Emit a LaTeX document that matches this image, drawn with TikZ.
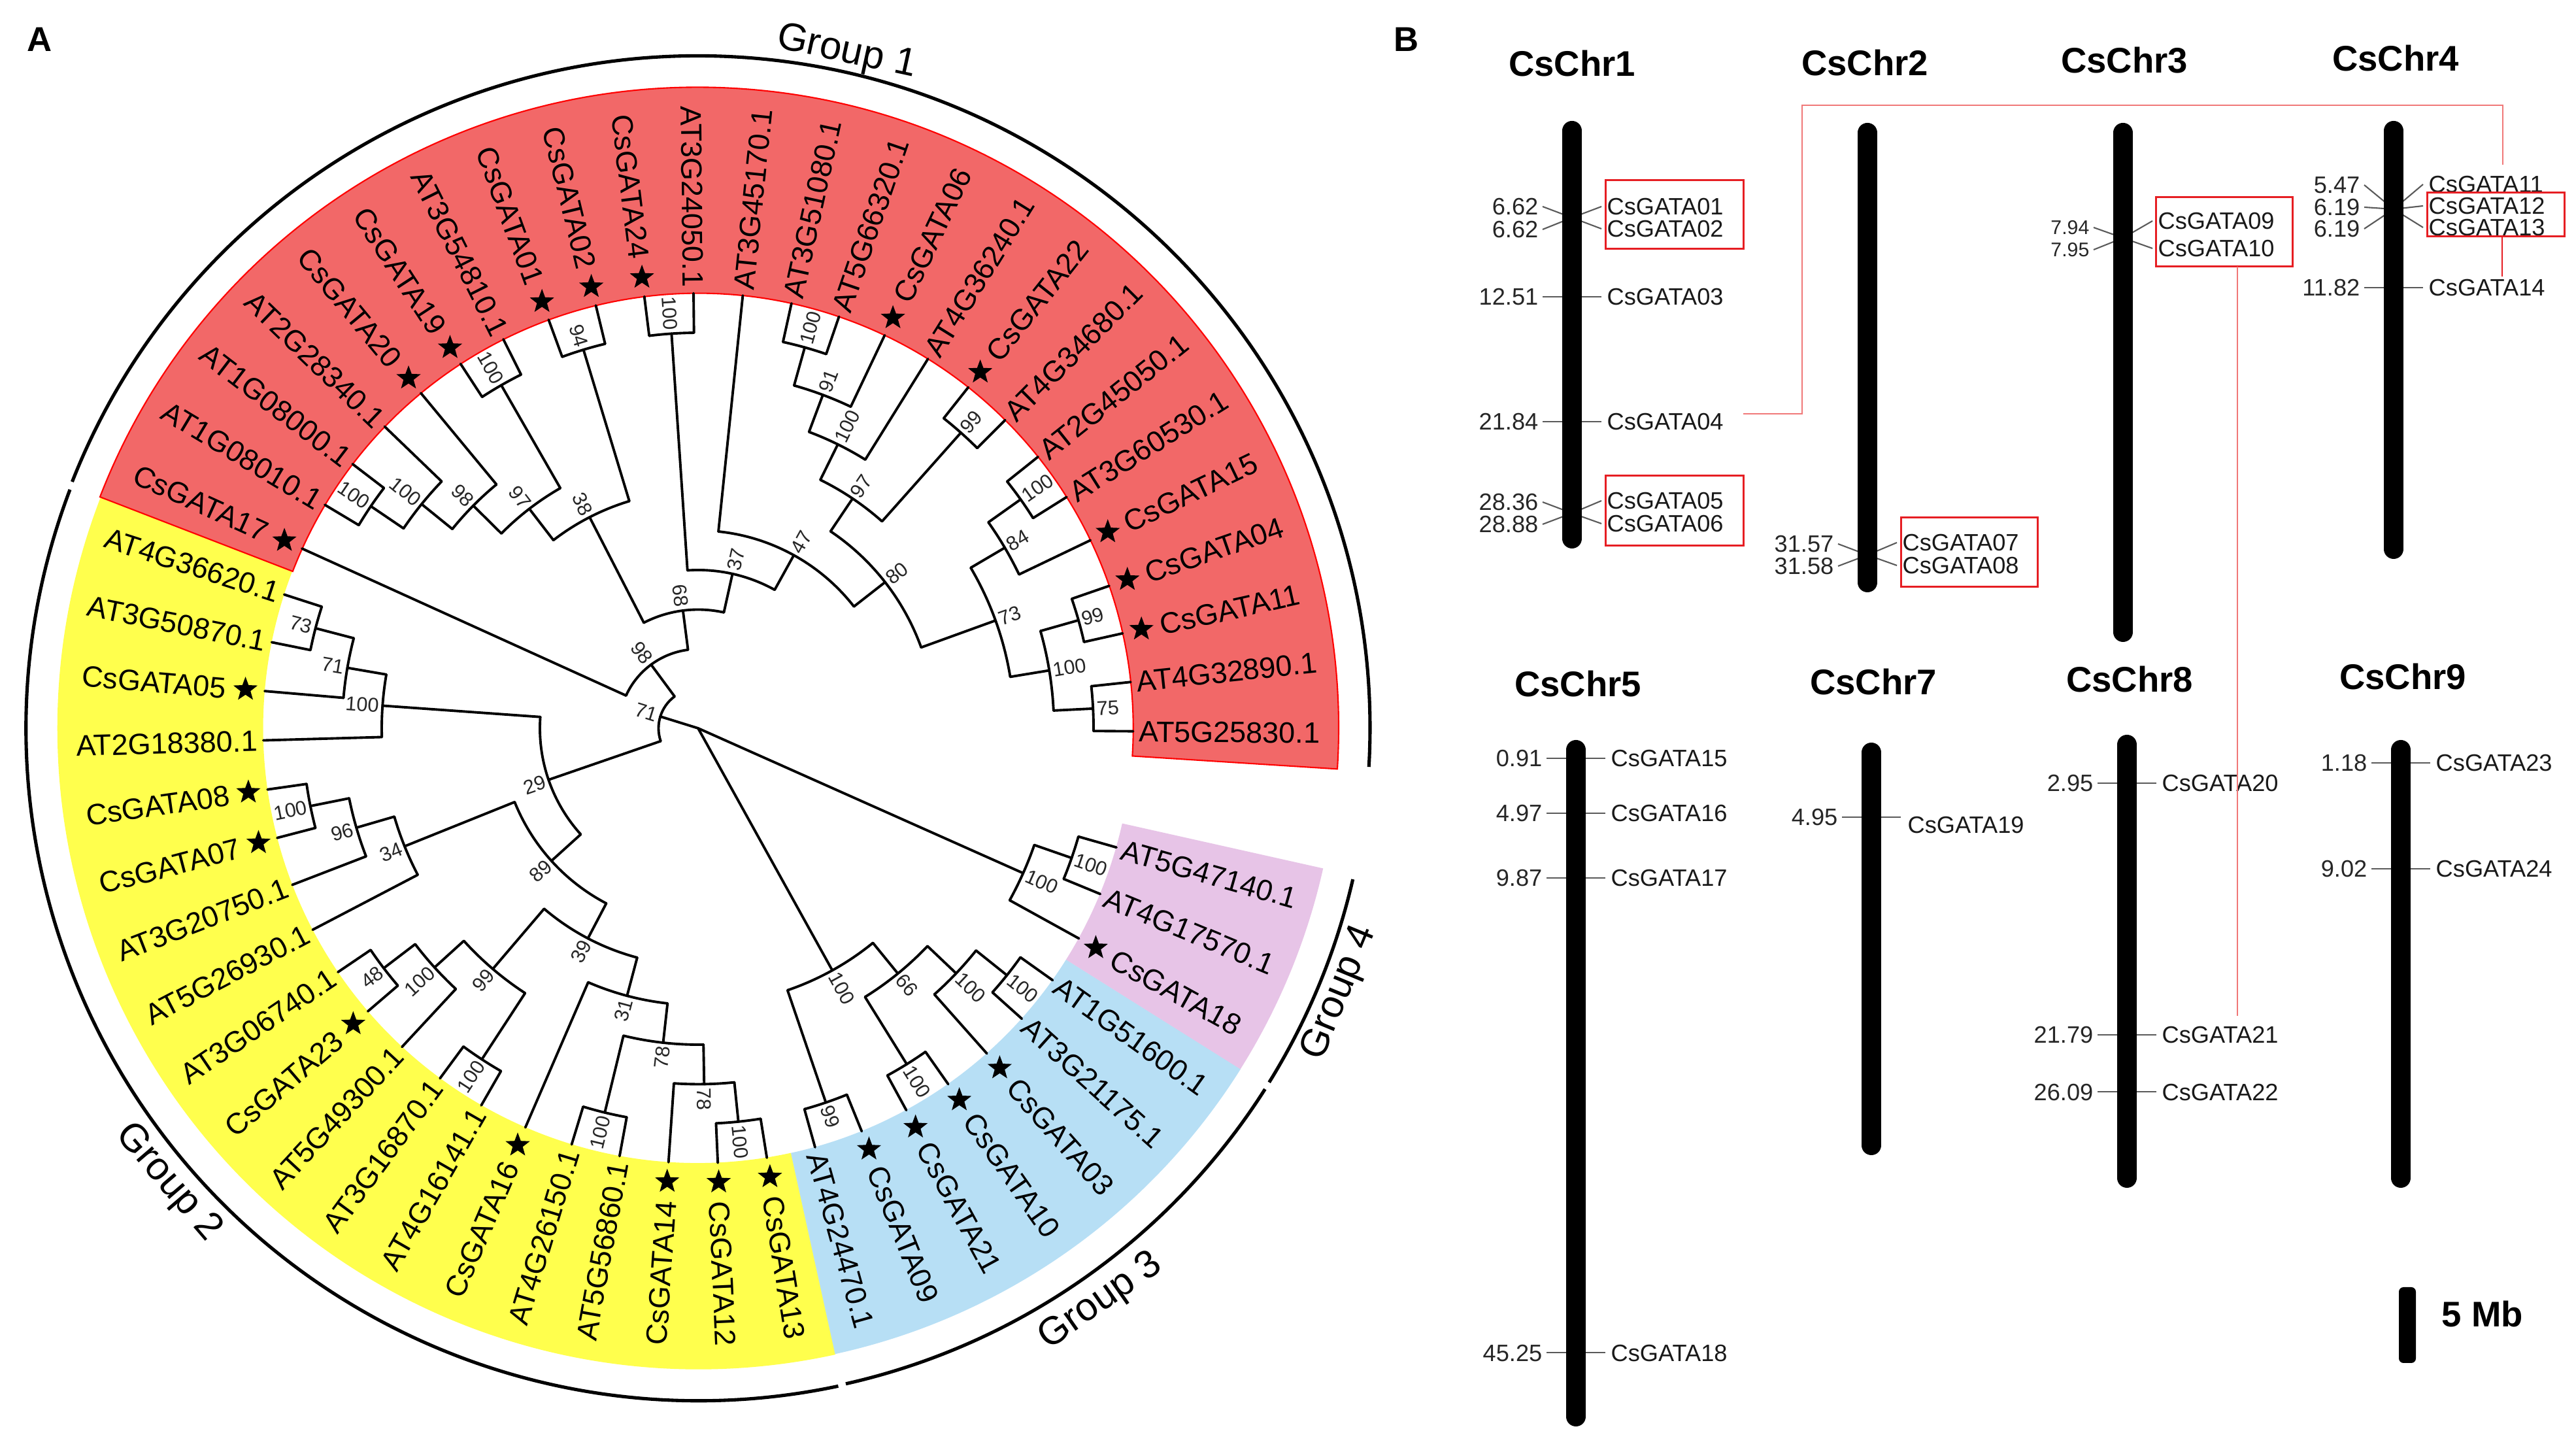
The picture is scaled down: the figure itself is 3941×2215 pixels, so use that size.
\documentclass[tikz,border=0pt]{standalone}
\usepackage{fontspec}
\setmainfont{Liberation Sans}
\usetikzlibrary{shapes.geometric}
\definecolor{bandred}{RGB}{242,104,104}
\definecolor{bandyellow}{RGB}{255,255,77}
\definecolor{bandblue}{RGB}{183,223,245}
\definecolor{bandpurple}{RGB}{231,196,231}
\definecolor{linkred}{RGB}{240,120,120}
\definecolor{boxred}{RGB}{230,30,35}
\definecolor{tickgray}{RGB}{90,90,90}
\tikzset{
 br/.style={line width=1.1pt, line cap=round, line join=round},
 bs/.style={font=\fontsize{8.7}{10}\selectfont, inner sep=0pt, text height=6.3pt, text depth=0pt, text=black!85},
 leaf/.style={font=\fontsize{12.8}{15}\selectfont, inner sep=0pt, text height=9.2pt, text depth=0pt},
 starnode/.style={star, star points=5, star point ratio=2.4, fill=black, inner sep=0pt, minimum size=0.39cm},
 grparc/.style={line width=1.45pt},
 grplabel/.style={font=\fontsize{17}{20}\selectfont, inner sep=0pt},
 panel/.style={font=\bfseries\fontsize{15}{18}\selectfont, inner sep=0pt},
 chrbar/.style={line width=0.3cm, line cap=round},
 chrtitle/.style={font=\bfseries\fontsize{15.5}{18}\selectfont, inner sep=0pt},
 tickln/.style={draw=tickgray, line width=0.6pt},
 posl/.style={font=\fontsize{10.3}{12}\selectfont, inner sep=0pt, text height=7.4pt, text depth=0pt, anchor=east, text=black!85},
 posls/.style={font=\fontsize{8.6}{10}\selectfont, inner sep=0pt, text height=6.2pt, text depth=0pt, anchor=east, text=black!85},
 genel/.style={font=\fontsize{10.3}{12}\selectfont, inner sep=0pt, text height=7.4pt, text depth=0pt, anchor=west, text=black!90},
 redbox/.style={draw=boxred, line width=0.85pt},
 redlink/.style={draw=linkred, line width=0.6pt},
}
% tree internal node: id, angle, level, parent level, first child angle, last child angle, bootstrap
\newcommand\TN[7]{%
  \draw[br] (#2:{#4*60.5}) -- (#2:{#3*60.5});
  \draw[br] (#5:{#3*60.5}) arc[start angle=#5, end angle=#6, radius={#3*0.605cm}];
  \pgfmathtruncatemacro\lfside{((#2>90) && (#2<270)) ? 1 : 0}%
  \ifnum\lfside=1
    \node[bs, anchor=east, rotate={#2-180}] (#1) at (#2:{#3*60.5+5}) {#7};
  \else
    \node[bs, anchor=west, rotate={#2}] (#1) at (#2:{#3*60.5+5}) {#7};
  \fi
}
% leaf: id, angle, parent level, text, star
\newcommand\LF[5]{%
  \draw[br] (#2:{#3*60.5}) -- (#2:665.5);
  \pgfmathtruncatemacro\lfside{((#2>90) && (#2<270)) ? 1 : 0}%
  \ifnum#5=1 \node[starnode] (s#1) at (#2:695) {};\def\lfrad{724}\else\def\lfrad{674}\fi
  \ifnum\lfside=1
    \node[leaf, anchor=east, rotate={#2-180}] (#1) at (#2:\lfrad) {#4};
  \else
    \node[leaf, anchor=west, rotate={#2}] (#1) at (#2:\lfrad) {#4};
  \fi
}
% gene marker: id, bar x, y at bar, y of left label, y of right label, position, gene, position style
\newcommand\gleg[8]{%
  \draw[tickln] (#2-45,#4) -- (#2,#3) -- (#2+45,#5);
  \node[#8] (p#1) at (#2-51,#4) {#6};
  \node[genel] (g#1) at (#2+53,#5) {#7};
}
\begin{document}
\begin{tikzpicture}[x=0.01cm,y=0.01cm]
\useasboundingbox (0,0) rectangle (3941,2215);
\fill[white] (0,0) rectangle (3941,2215);

% ================= Panel A : circular tree =================
\begin{scope}[shift={(1068,1101)}]
 \fill[bandyellow] (158.85:980) arc[start angle=158.85,end angle=282.35,radius=9.8cm] -- (282.35:665) arc[start angle=282.35,end angle=158.85,radius=6.65cm] -- cycle;
 \fill[bandblue] (282.35:980) arc[start angle=282.35,end angle=327.85,radius=9.8cm] -- (327.85:665) arc[start angle=327.85,end angle=282.35,radius=6.65cm] -- cycle;
 \fill[bandpurple] (327.85:980) arc[start angle=327.85,end angle=347.35,radius=9.8cm] -- (347.35:665) arc[start angle=347.35,end angle=327.85,radius=6.65cm] -- cycle;
 \path[fill=bandred, draw=red, line width=0.6pt] (-3.65:980) arc[start angle=-3.65,end angle=158.85,radius=9.8cm] -- (158.85:665) arc[start angle=158.85,end angle=-3.65,radius=6.65cm] -- cycle;

 \draw[grparc] (-3.3:1028) arc[start angle=-3.3,end angle=158.5,radius=10.28cm];
 \draw[grparc] (159.2:1028) arc[start angle=159.2,end angle=282.0,radius=10.28cm];
 \draw[grparc] (282.7:1028) arc[start angle=282.7,end angle=327.5,radius=10.28cm];
 \draw[grparc] (328.2:1028) arc[start angle=328.2,end angle=347.0,radius=10.28cm];
 \node[grplabel, rotate=-12.3] (grp1) at (77.6:1058) {Group 1};
 \node[grplabel, rotate=-49.4] (grp2) at (220.6:1068) {Group 2};
 \node[grplabel, rotate=35.1] (grp3) at (305.1:1072) {Group 3};
 \node[grplabel, rotate=67.6] (grp4) at (337.6:1062) {Group 4};

 % internal nodes
 \TN{r71}{162.74}{1}{0}{126.465}{199.02}{71}
 \TN{n98a}{126.465}{2}{1}{97.33}{155.6}{98}
 \TN{n68}{97.33}{3}{2}{77.45}{117.21}{68}
 \TN{n38}{117.21}{6}{3}{106.85}{127.569}{38}
 \TN{n97L}{127.569}{7}{6}{119.85}{135.2875}{97}
 \TN{n98L}{135.2875}{8}{7}{129.6}{140.975}{98}
 \TN{n100a}{140.975}{9}{8}{136.1}{145.85}{100}
 \TN{n100b}{145.85}{10}{9}{142.6}{149.1}{100}
 \TN{n100c}{119.85}{10}{7}{116.6}{123.1}{100}
 \TN{n94}{106.85}{10}{6}{103.6}{110.1}{94}
 \TN{n37}{77.45}{4}{3}{61.045}{93.85}{37}
 \TN{n100d}{93.85}{10}{4}{90.6}{97.1}{100}
 \TN{n47}{61.045}{5}{4}{37.99}{84.1}{47}
 \TN{n80}{37.99}{6}{5}{19.91}{56.07}{80}
 \TN{n97R}{56.07}{7}{6}{48.35}{63.79}{97}
 \TN{n100i}{63.79}{8}{7}{58.1}{69.475}{100}
 \TN{n91}{69.475}{9}{8}{64.6}{74.35}{91}
 \TN{n100e}{74.35}{10}{9}{71.1}{77.6}{100}
 \TN{n99a}{48.35}{10}{7}{45.1}{51.6}{99}
 \TN{n73}{19.91}{8}{6}{9.35}{30.475}{73}
 \TN{n84}{30.475}{9}{8}{25.6}{35.35}{84}
 \TN{n100f}{35.35}{10}{9}{32.1}{38.6}{100}
 \TN{n100g}{9.35}{9}{8}{2.85}{15.85}{100}
 \TN{n99b}{15.85}{10}{9}{12.6}{19.1}{99}
 \TN{n75}{2.85}{10}{9}{-0.4}{6.1}{75}
 \TN{n29}{199.02}{4}{1}{175.91}{222.12}{29}
 \TN{n100h}{175.91}{8}{4}{170.225}{181.6}{100}
 \TN{n71b}{170.225}{9}{8}{165.35}{175.1}{71}
 \TN{n73b}{165.35}{10}{9}{162.1}{168.6}{73}
 \TN{n89}{222.12}{5}{4}{201.91}{242.33}{89}
 \TN{n34}{201.91}{8}{5}{196.225}{207.6}{34}
 \TN{n96}{196.225}{9}{8}{191.35}{201.1}{96}
 \TN{n100j}{191.35}{10}{9}{188.1}{194.6}{100}
 \TN{n39}{242.33}{6}{5}{229.54}{255.13}{39}
 \TN{n99c}{229.54}{8}{6}{222.225}{236.85}{99}
 \TN{n100k}{222.225}{9}{8}{217.35}{227.1}{100}
 \TN{n48}{217.35}{10}{9}{214.1}{220.6}{48}
 \TN{n100l}{236.85}{10}{8}{233.6}{240.1}{100}
 \TN{n31}{255.13}{7}{6}{246.6}{263.66}{31}
 \TN{n78a}{263.66}{8}{7}{256.35}{270.975}{78}
 \TN{n100m}{256.35}{10}{8}{253.1}{259.6}{100}
 \TN{n78b}{270.975}{9}{8}{266.1}{275.85}{78}
 \TN{n100n}{275.85}{10}{9}{272.6}{279.1}{100}
 \TN{g3}{299.006}{7}{0}{288.85}{309.1625}{100}
 \TN{n99d}{288.85}{10}{7}{285.6}{292.1}{99}
 \TN{n66}{309.1625}{8}{7}{301.85}{316.475}{66}
 \TN{n100z}{301.85}{10}{8}{298.6}{305.1}{100}
 \TN{n100y}{316.475}{9}{8}{311.6}{321.35}{100}
 \TN{n100x}{321.35}{10}{9}{318.1}{324.6}{100}
 \TN{g4}{335.975}{9}{0}{331.1}{340.85}{100}
 \TN{n100w}{340.85}{10}{9}{337.6}{344.1}{100}

 % leaves
 \LF{L0}{-0.4}{10}{AT5G25830.1}{0}
 \LF{L1}{6.1}{10}{AT4G32890.1}{0}
 \LF{L2}{12.6}{10}{CsGATA11}{1}
 \LF{L3}{19.1}{10}{CsGATA04}{1}
 \LF{L4}{25.6}{9}{CsGATA15}{1}
 \LF{L5}{32.1}{10}{AT3G60530.1}{0}
 \LF{L6}{38.6}{10}{AT2G45050.1}{0}
 \LF{L7}{45.1}{10}{AT4G34680.1}{0}
 \LF{L8}{51.6}{10}{CsGATA22}{1}
 \LF{L9}{58.1}{8}{AT4G36240.1}{0}
 \LF{L10}{64.6}{9}{CsGATA06}{1}
 \LF{L11}{71.1}{10}{AT5G66320.1}{0}
 \LF{L12}{77.6}{10}{AT3G51080.1}{0}
 \LF{L13}{84.1}{5}{AT3G45170.1}{0}
 \LF{L14}{90.6}{10}{AT3G24050.1}{0}
 \LF{L15}{97.1}{10}{CsGATA24}{1}
 \LF{L16}{103.6}{10}{CsGATA02}{1}
 \LF{L17}{110.1}{10}{CsGATA01}{1}
 \LF{L18}{116.6}{10}{AT3G54810.1}{0}
 \LF{L19}{123.1}{10}{CsGATA19}{1}
 \LF{L20}{129.6}{8}{CsGATA20}{1}
 \LF{L21}{136.1}{9}{AT2G28340.1}{0}
 \LF{L22}{142.6}{10}{AT1G08000.1}{0}
 \LF{L23}{149.1}{10}{AT1G08010.1}{0}
 \LF{L24}{155.6}{2}{CsGATA17}{1}
 \LF{L25}{162.1}{10}{AT4G36620.1}{0}
 \LF{L26}{168.6}{10}{AT3G50870.1}{0}
 \LF{L27}{175.1}{9}{CsGATA05}{1}
 \LF{L28}{181.6}{8}{AT2G18380.1}{0}
 \LF{L29}{188.1}{10}{CsGATA08}{1}
 \LF{L30}{194.6}{10}{CsGATA07}{1}
 \LF{L31}{201.1}{9}{AT3G20750.1}{0}
 \LF{L32}{207.6}{8}{AT5G26930.1}{0}
 \LF{L33}{214.1}{10}{AT3G06740.1}{0}
 \LF{L34}{220.6}{10}{CsGATA23}{1}
 \LF{L35}{227.1}{9}{AT5G49300.1}{0}
 \LF{L36}{233.6}{10}{AT3G16870.1}{0}
 \LF{L37}{240.1}{10}{AT4G16141.1}{0}
 \LF{L38}{246.6}{7}{CsGATA16}{1}
 \LF{L39}{253.1}{10}{AT4G26150.1}{0}
 \LF{L40}{259.6}{10}{AT5G56860.1}{0}
 \LF{L41}{266.1}{9}{CsGATA14}{1}
 \LF{L42}{272.6}{10}{CsGATA12}{1}
 \LF{L43}{279.1}{10}{CsGATA13}{1}
 \LF{L44}{285.6}{10}{AT4G24470.1}{0}
 \LF{L45}{292.1}{10}{CsGATA09}{1}
 \LF{L46}{298.6}{10}{CsGATA21}{1}
 \LF{L47}{305.1}{10}{CsGATA10}{1}
 \LF{L48}{311.6}{9}{CsGATA03}{1}
 \LF{L49}{318.1}{10}{AT3G21175.1}{0}
 \LF{L50}{324.6}{10}{AT1G51600.1}{0}
 \LF{L51}{331.1}{9}{CsGATA18}{1}
 \LF{L52}{337.6}{10}{AT4G17570.1}{0}
 \LF{L53}{344.1}{10}{AT5G47140.1}{0}
\end{scope}

% ================= Panel labels and Panel B (y measured downward) =================
\begin{scope}[shift={(0,2215)}, y=-0.01cm]
 \node[panel] (labA) at (61,60) {A};
 \node[panel] (labB) at (2152,60) {B};

 % chromosome titles
 \node[chrtitle] (c1) at (2405,97) {CsChr1};
 \node[chrtitle] (c2) at (2853,96) {CsChr2};
 \node[chrtitle] (c3) at (3250,92) {CsChr3};
 \node[chrtitle] (c4) at (3665,89) {CsChr4};
 \node[chrtitle] (c5) at (2414,1046) {CsChr5};
 \node[chrtitle] (c7) at (2866,1043) {CsChr7};
 \node[chrtitle] (c8) at (3258,1039) {CsChr8};
 \node[chrtitle] (c9) at (3676,1035) {CsChr9};

 % gene markers (drawn before bars)
 \gleg{01}{2405}{333}{316}{316}{6.62}{CsGATA01}{posl}
 \gleg{02}{2405}{333}{351}{350}{6.62}{CsGATA02}{posl}
 \gleg{03}{2405}{454}{454}{454}{12.51}{CsGATA03}{posl}
 \gleg{04}{2405}{645}{645}{645}{21.84}{CsGATA04}{posl}
 \gleg{05}{2405}{785}{768}{766}{28.36}{CsGATA05}{posl}
 \gleg{06}{2405}{785}{802}{801}{28.88}{CsGATA06}{posl}
 \gleg{07}{2857}{849}{832}{830}{31.57}{CsGATA07}{posl}
 \gleg{08}{2857}{849}{866}{865}{31.58}{CsGATA08}{posl}
 \gleg{09}{3248}{364}{348}{338}{7.94}{CsGATA09}{posls}
 \gleg{10}{3248}{364}{382}{380}{7.95}{CsGATA10}{posls}
 \gleg{11}{3662}{320}{283}{282}{5.47}{CsGATA11}{posl}
 \gleg{12}{3662}{320}{317}{315}{6.19}{CsGATA12}{posl}
 \gleg{13}{3662}{320}{350}{348}{6.19}{CsGATA13}{posl}
 \gleg{14}{3662}{440}{440}{440}{11.82}{CsGATA14}{posl}
 \gleg{15}{2411}{1160}{1160}{1160}{0.91}{CsGATA15}{posl}
 \gleg{16}{2411}{1244}{1244}{1244}{4.97}{CsGATA16}{posl}
 \gleg{17}{2411}{1343}{1343}{1343}{9.87}{CsGATA17}{posl}
 \gleg{18}{2411}{2069}{2069}{2069}{45.25}{CsGATA18}{posl}
 \draw[tickln] (2818,1250) -- (2908,1250);
 \node[posl] (p19) at (2812,1250) {4.95};
 \node[genel] (g19) at (2918,1262) {CsGATA19};
 \gleg{20}{3254}{1198}{1198}{1198}{2.95}{CsGATA20}{posl}
 \gleg{21}{3254}{1583}{1583}{1583}{21.79}{CsGATA21}{posl}
 \gleg{22}{3254}{1670}{1670}{1670}{26.09}{CsGATA22}{posl}
 \gleg{23}{3673}{1167}{1167}{1167}{1.18}{CsGATA23}{posl}
 \gleg{24}{3673}{1329}{1329}{1329}{9.02}{CsGATA24}{posl}

 % chromosome bars
 \draw[chrbar] (2405,200) -- (2405,824);
 \draw[chrbar] (2857,203) -- (2857,891);
 \draw[chrbar] (3248,203) -- (3248,967);
 \draw[chrbar] (3662,200) -- (3662,840);
 \draw[chrbar] (2411,1147) -- (2411,2167);
 \draw[chrbar] (2863,1151) -- (2863,1752);
 \draw[chrbar] (3254,1139) -- (3254,1802);
 \draw[chrbar] (3673,1147) -- (3673,1802);

 % red boxes around gene pairs
 \draw[redbox] (2456,276) rectangle (2667,381);
 \draw[redbox] (2456,728) rectangle (2667,835);
 \draw[redbox] (2908,792) rectangle (3117,898);
 \draw[redbox] (3298,302) rectangle (3507,408);
 \draw[redbox] (3713,295) rectangle (3923,362);

 % red links
 \coordinate (lkA) at (2667,633);
 \coordinate (lkB) at (3829,252);
 \coordinate (lkC) at (3423,408);
 \coordinate (lkD) at (3423,1554);
 \coordinate (lkE) at (3828,362);
 \coordinate (lkF) at (3828,423);
 \draw[redlink] (lkA) -| (2757,161) -| (lkB);
 \draw[redlink] (lkC) -- (lkD);
 \draw[draw=boxred, line width=0.7pt] (lkE) -- (lkF);

 % scale bar
 \fill[black, rounded corners=2pt] (3670,1969) rectangle (3696,2085);
 \node[font=\bfseries\fontsize{15.5}{18}\selectfont, inner sep=0pt, anchor=west] (mb) at (3735,2010) {5 Mb};
\end{scope}
\end{tikzpicture}
\end{document}
